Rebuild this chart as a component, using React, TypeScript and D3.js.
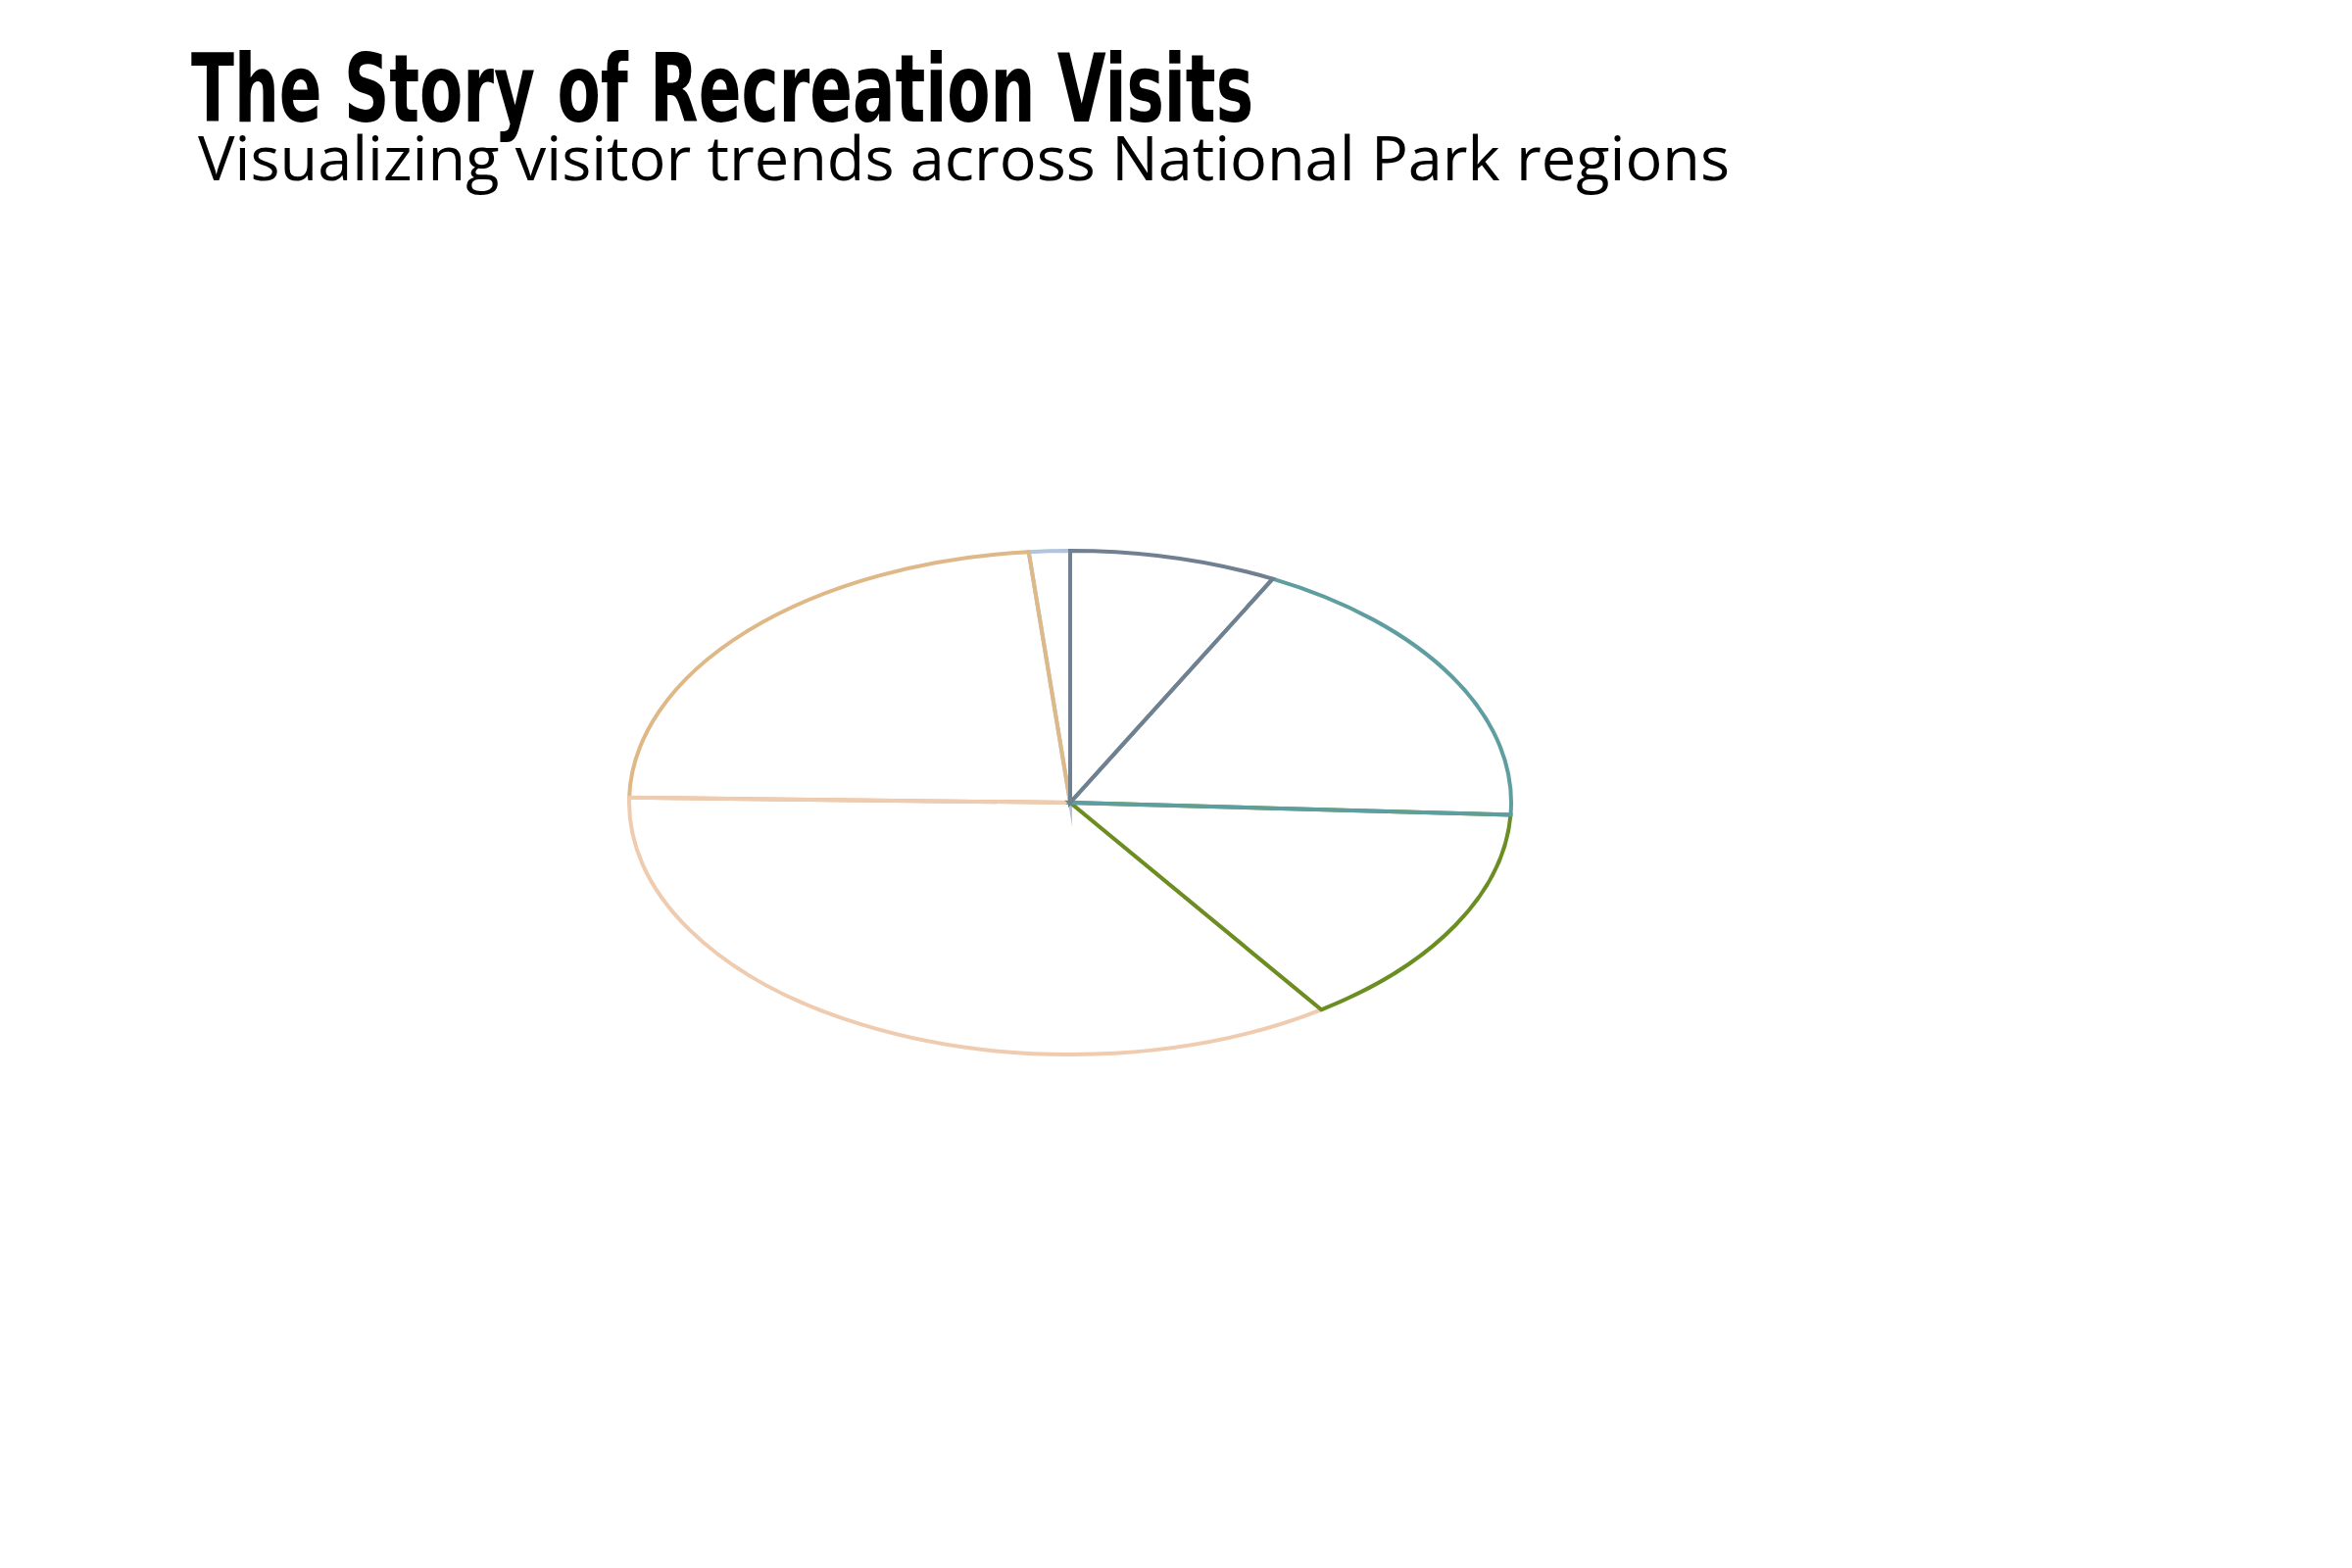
import * as d3 from 'd3';
import { useEffect, useRef } from 'react';

const regions = ['Midwest', 'Intermountain', 'Pacific West', 'Southeast', 'Northeast', 'Alaska'];
const visitShares = [7.6, 18.2, 14.6, 35.0, 23.2, 1.5];
const regionColors = ['#708090', '#5f9ea0', '#6b8e23', '#efcbb0', '#deb887', '#b0c4de'];

const title = 'The Story of Recreation Visits';
const subtitle = 'Visualizing visitor trends across National Park regions';

export default function App() {
  const ref = useRef<SVGSVGElement | null>(null);

  useEffect(() => {
    const svg = d3.select(ref.current);
    svg.selectAll('*').remove();
    const width = 2400;
    const height = 1600;
    const cx = 1092;
    const cy = 819;
    const rx = 450;
    const ry = 257;

    svg.attr('viewBox', `0 0 ${width} ${height}`);
    svg.append('rect').attr('width', width).attr('height', height).attr('fill', '#fff');

    svg
      .append('text')
      .attr('x', 195)
      .attr('y', 124)
      .attr('font-family', '"DejaVu Sans Condensed", "Liberation Sans Narrow", sans-serif')
      .attr('font-weight', 700)
      .attr('font-size', 96)
      .attr('textLength', 1084)
      .attr('lengthAdjust', 'spacingAndGlyphs')
      .attr('fill', '#000')
      .text(title);

    svg
      .append('text')
      .attr('x', 202)
      .attr('y', 184)
      .attr('font-family', '"Open Sans", "Noto Sans", sans-serif')
      .attr('font-size', 62)
      .attr('textLength', 1563)
      .attr('lengthAdjust', 'spacingAndGlyphs')
      .attr('fill', '#000')
      .text(subtitle);

    const data = regions.map((name, i) => ({ name, value: visitShares[i], color: regionColors[i] }));
    const pie = d3
      .pie<(typeof data)[number]>()
      .sort(null)
      .value((d) => d.value);
    const arc = d3
      .arc<d3.PieArcDatum<(typeof data)[number]>>()
      .innerRadius(0)
      .outerRadius(ry);

    // the pie is squashed into an ellipse; keep strokes at screen width
    const g = svg.append('g').attr('transform', `translate(${cx},${cy}) scale(${rx / ry},1)`);
    g.selectAll('path')
      .data(pie(data).reverse())
      .join('path')
      .attr('d', arc)
      .attr('fill', 'none')
      .attr('stroke', (d) => d.data.color)
      .attr('stroke-width', 4)
      .attr('stroke-miterlimit', 20)
      .attr('vector-effect', 'non-scaling-stroke');
  }, []);

  return (
    <svg
      ref={ref}
      width={2400}
      height={1600}
      style={{ position: 'absolute', left: 0, top: 0, display: 'block' }}
      role="img"
      aria-label={title}
    />
  );
}
